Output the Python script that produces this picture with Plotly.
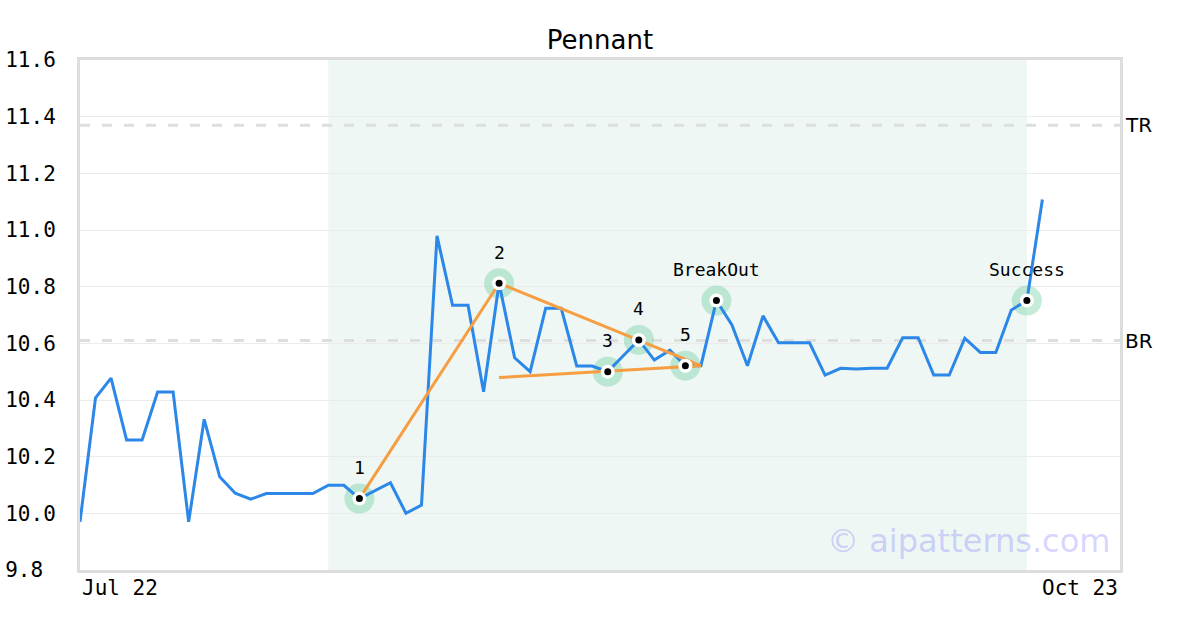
import plotly.graph_objects as go

BLUE = "#2b87e8"
ORANGE = "#f79d42"
HALO = "rgba(110,205,160,0.4)"
SHADE = "#eef7f3"
GRID = "#ebebeb"
BORDER = "#dddddd"
MONO = "DejaVu Sans Mono, monospace"
SANS = "DejaVu Sans, sans-serif"

# weekly closes, index 0 = first week shown
prices = [
    9.97, 10.408, 10.477, 10.259, 10.259, 10.428, 10.428, 9.97, 10.332, 10.129,
    10.071, 10.05, 10.07, 10.07, 10.07, 10.07, 10.099, 10.099, 10.052, 10.08,
    10.108, 10.0, 10.029, 10.979, 10.734, 10.734, 10.429, 10.812, 10.549, 10.5,
    10.724, 10.724, 10.52, 10.52, 10.50, 10.556, 10.612, 10.541, 10.576, 10.521,
    10.521, 10.751, 10.665, 10.521, 10.697, 10.602, 10.602, 10.602, 10.488, 10.512,
    10.509, 10.512, 10.512, 10.62, 10.62, 10.488, 10.488, 10.618, 10.568, 10.568,
    10.718, 10.751, 11.108,
]
weeks = list(range(len(prices)))

pivot_idx = [18, 27, 34, 36, 39, 41, 61]
pivot_labels = ["1", "2", "3", "4", "5", "BreakOut", "Success"]

upper_x = [18, 27, 40]
upper_y = [10.052, 10.812, 10.521]
lower_x = [27, 40]
lower_y = [10.479, 10.521]

tr_level = 11.37
br_level = 10.61
shade_start, shade_end = 16, 61
x_end = 67
date_labels = ["Jul 22", "Oct 23"]

y_ticks = [9.8, 10.0, 10.2, 10.4, 10.6, 10.8, 11.0, 11.2, 11.4, 11.6]

px_ = [weeks[i] for i in pivot_idx]
py_ = [prices[i] for i in pivot_idx]

fig = go.Figure()
fig.add_trace(go.Scatter(x=px_, y=py_, mode="markers",
                         marker=dict(size=30, color=HALO), hoverinfo="skip"))
fig.add_trace(go.Scatter(x=weeks, y=prices, mode="lines",
                         line=dict(color=BLUE, width=3), hoverinfo="skip"))
fig.add_trace(go.Scatter(x=upper_x, y=upper_y, mode="lines",
                         line=dict(color=ORANGE, width=3), hoverinfo="skip"))
fig.add_trace(go.Scatter(x=lower_x, y=lower_y, mode="lines",
                         line=dict(color=ORANGE, width=3), hoverinfo="skip"))
fig.add_trace(go.Scatter(x=px_, y=py_, mode="markers",
                         marker=dict(size=14, color="white"), hoverinfo="skip"))
fig.add_trace(go.Scatter(x=px_, y=py_, mode="markers",
                         marker=dict(size=7, color="black"), hoverinfo="skip"))

fig.add_shape(type="rect", x0=shade_start, x1=shade_end, y0=0, y1=1,
              xref="x", yref="paper", fillcolor=SHADE, line_width=0, layer="below")
for lvl, name in [(tr_level, "TR"), (br_level, "BR")]:
    fig.add_shape(type="line", x0=0, x1=1, y0=lvl, y1=lvl, xref="paper", yref="y",
                  line=dict(color="#dedede", width=3, dash="10px,12px"), layer="between")
    fig.add_annotation(x=1, y=lvl, xref="paper", yref="y", text=name, showarrow=False,
                       xanchor="left", xshift=3, font=dict(family=SANS, size=20, color="black"))

for x, y, t in zip(px_, py_, pivot_labels):
    fig.add_annotation(x=x, y=y, text=t, showarrow=False, yshift=31,
                       font=dict(family=MONO, size=18, color="black"))

# date labels at both ends of the time axis
fig.add_annotation(x=0, y=0, xref="paper", yref="paper", text=date_labels[0],
                   showarrow=False, xanchor="left", yanchor="top", yshift=-4,
                   font=dict(family=MONO, size=21, color="black"))
fig.add_annotation(x=1, y=0, xref="paper", yref="paper", text=date_labels[1],
                   showarrow=False, xanchor="right", yanchor="top", yshift=-4,
                   font=dict(family=MONO, size=21, color="black"))

fig.add_annotation(x=1, y=0, xref="paper", yref="paper", text="© aipatterns.com",
                   showarrow=False, xanchor="right", yanchor="bottom", xshift=-8, yshift=8,
                   font=dict(family=SANS, size=32, color="rgba(110,110,255,0.3)"))

fig.update_layout(
    width=1200, height=630,
    margin=dict(l=80, r=80, t=60, b=60),
    paper_bgcolor="white", plot_bgcolor="white",
    showlegend=False,
    title=dict(text="Pennant", x=0.5, xanchor="center", y=1 - 40 / 630, yanchor="middle",
               font=dict(family=SANS, size=26, color="black")),
    font=dict(family=MONO, size=20, color="black"),
)
fig.update_xaxes(range=[0, x_end], showgrid=False, zeroline=False, showticklabels=False,
                 showline=True, mirror=True, linecolor=BORDER, linewidth=3,
                 ticks="", automargin=False)
fig.update_yaxes(range=[9.8, 11.6], tickvals=y_ticks,
                 ticktext=[f"{v:.1f}".ljust(4, "\u00a0") for v in y_ticks],
                 showgrid=True, gridcolor=GRID, gridwidth=1, zeroline=False,
                 showline=True, mirror=True, linecolor=BORDER, linewidth=3,
                 ticks="", ticklabelstandoff=17, automargin=False,
                 tickfont=dict(family=MONO, size=21, color="black"))

fig.write_html("out.html", config={"displayModeBar": False},
               post_script="document.body.style.margin = '0';")
